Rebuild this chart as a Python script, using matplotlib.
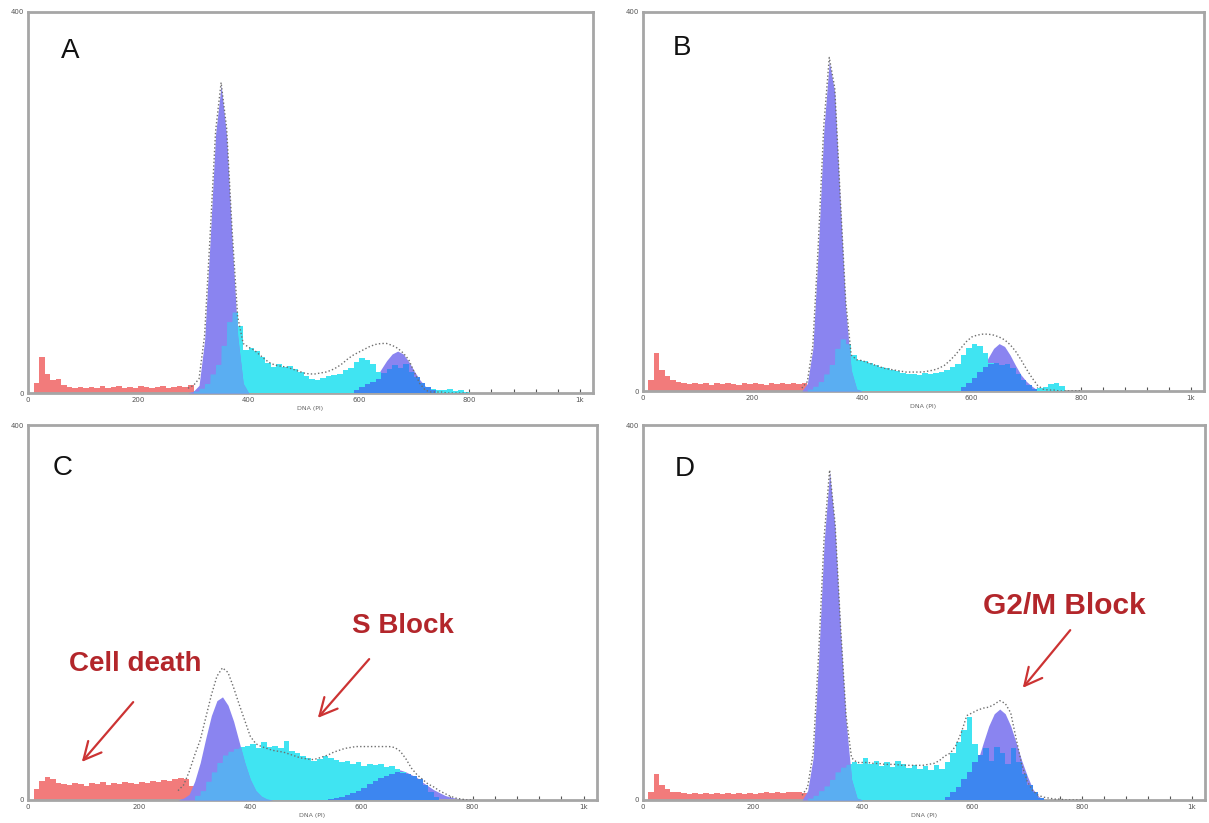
import numpy as np
import matplotlib
matplotlib.use("Agg")
import matplotlib.pyplot as plt
from matplotlib.patches import FancyArrowPatch
from matplotlib.ticker import FixedLocator, MultipleLocator

BIN = 10  # channel width of every listed value

# ---------------- Panel A ----------------
debris_A_start = 0
debris_A = [0, 10, 38, 20, 14, 15, 8, 6, 5, 6, 5, 6, 5, 7, 5, 6, 7, 5, 6, 5,
            7, 6, 5, 6, 7, 5, 6, 7, 6, 8]
sphase_A_start = 300
sphase_A = [2, 5, 10, 20, 30, 50, 75, 85, 70, 45,
            47, 44, 38, 32, 27, 30, 27, 28, 25, 22,
            18, 15, 14, 16, 18, 19, 20, 24, 26, 33,
            37, 35, 30, 22, 14, 8, 4, 2, 2, 3,
            3, 4, 3, 4, 3, 3, 4, 2, 3, 1]
g1_A_start = 290
g1_A = [0, 2, 8, 55, 160, 272, 323, 270, 160, 60, 10, 0]
g2_A_start = 560
g2_A = [0, 0, 0, 1, 2, 4, 8, 15, 25, 34, 41, 44, 41, 33, 23, 14, 7, 3, 1, 0, 0]
g2data_A_start = 590
g2data_A = [3, 6, 9, 12, 15, 21, 25, 29, 26, 30, 22, 17, 10, 6, 3]
total_A_start = 290
total_A = [5, 8, 15, 60, 165, 275, 326, 278, 170, 80,
           52, 48, 45, 40, 35, 31, 29, 28, 27, 25,
           23, 21, 20, 20, 21, 22, 24, 27, 31, 36,
           40, 43, 46, 49, 51, 52, 52, 50, 47, 42,
           35, 22, 10, 3, 1, 1, 1, 0, 0, 0, 0, 0]

# ---------------- Panel B ----------------
debris_B_start = 0
debris_B = [0, 12, 40, 22, 16, 12, 10, 8, 7, 8, 7, 8, 6, 8, 7, 8, 7, 6, 8, 7,
            8, 7, 6, 8, 7, 8, 7, 8, 7, 8]
sphase_B_start = 300
sphase_B = [2, 5, 10, 18, 28, 45, 55, 50, 38, 33,
            32, 30, 27, 25, 24, 22, 21, 19, 18, 18,
            17, 19, 18, 19, 20, 22, 25, 29, 38, 45,
            50, 48, 40, 30, 20, 12, 6, 3, 2, 2,
            2, 2, 3, 4, 7, 8, 5, 0, 0, 0]
g1_B_start = 290
g1_B = [0, 8, 45, 150, 275, 348, 315, 200, 88, 22, 2, 0]
g2_B_start = 560
g2_B = [0, 0, 1, 2, 6, 13, 23, 35, 45, 50, 47, 38, 27, 17, 10, 5, 1, 0, 0, 0, 0]
g2data_B_start = 580
g2data_B = [4, 8, 14, 20, 25, 28, 30, 27, 29, 24, 18, 12, 6, 2]
total_B_start = 290
total_B = [3, 10, 48, 155, 280, 352, 320, 205, 95, 38,
           33, 32, 30, 28, 26, 24, 23, 22, 21, 20,
           20, 20, 20, 21, 22, 24, 27, 32, 38, 45,
           52, 57, 59, 60, 60, 59, 57, 54, 49, 42,
           33, 23, 14, 6, 2, 1, 1, 0, 0, 0, 0, 0]

# ---------------- Panel C ----------------
debris_C_start = 0
debris_C = [0, 12, 20, 25, 22, 18, 17, 16, 18, 17, 15, 18, 17, 19, 16, 18, 17, 19, 18, 17,
            19, 18, 20, 19, 21, 20, 22, 23, 22, 15]
sphase_C_start = 300
sphase_C = [5, 10, 20, 30, 40, 48, 52, 55, 57, 58,
            60, 55, 62, 56, 58, 55, 63, 52, 50, 47,
            45, 42, 44, 47, 45, 43, 40, 42, 38, 40,
            36, 38, 37, 38, 35, 36, 33, 30, 27, 20,
            12, 6, 3, 1, 0, 0, 0, 0, 0, 0]
g1_C_start = 270
g1_C = [0, 2, 6, 20, 40, 66, 90, 106, 110, 101, 84, 62, 40, 22, 10, 4, 1, 0]
g2_C_start = 520
g2_C = [0, 0, 1, 1, 2, 3, 5, 8, 11, 15, 19, 24, 27, 30, 32, 32, 30, 27, 24, 19,
        15, 11, 8, 5, 3, 2, 1, 1, 0]
g2data_C_start = 540
g2data_C = [1, 2, 3, 5, 7, 10, 13, 17, 20, 23, 26, 28, 30, 29, 28, 26, 22, 16, 8, 3]
total_C_start = 270
total_C = [10, 16, 30, 48, 64, 88, 112, 132, 141, 136,
           120, 102, 85, 68, 60, 57, 55, 53, 52, 51,
           49, 47, 45, 44, 43, 44, 46, 48, 51, 53,
           55, 56, 57, 57, 57, 57, 57, 57, 57, 56,
           52, 44, 34, 27, 22, 17, 14, 10, 7, 4,
           2, 1, 0, 0]

# ---------------- Panel D ----------------
debris_D_start = 0
debris_D = [0, 8, 28, 16, 12, 9, 8, 7, 6, 7, 6, 7, 6, 7, 6, 7, 6, 7, 6, 7,
            6, 7, 8, 7, 8, 7, 8, 9, 8, 7]
sphase_D_start = 300
sphase_D = [2, 5, 10, 15, 22, 30, 35, 38, 40, 38,
            45, 38, 42, 36, 40, 35, 42, 38, 34, 37,
            33, 36, 32, 37, 33, 40, 50, 62, 75, 88,
            60, 30, 14, 6, 3, 2, 1, 0, 0, 0,
            0, 0, 0, 0, 0, 0, 0, 0, 0, 0]
g1_D_start = 290
g1_D = [0, 10, 45, 150, 275, 350, 290, 180, 85, 22, 2, 0]
g2_D_start = 540
g2_D = [0, 0, 1, 3, 8, 15, 26, 42, 61, 79, 92, 97, 92, 79, 61, 42, 26, 12, 4, 1, 0]
g2data_D_start = 550
g2data_D = [3, 8, 14, 22, 30, 40, 48, 55, 42, 57, 50, 38, 55, 40, 28, 16, 8, 2]
total_D_start = 290
total_D = [5, 14, 50, 155, 280, 352, 295, 185, 90, 45,
           40, 40, 40, 39, 39, 38, 38, 38, 37, 37,
           37, 37, 37, 38, 39, 42, 47, 50, 58, 72,
           90, 93, 96, 98, 99, 102, 106, 103, 93, 65,
           38, 20, 10, 5, 3, 2, 1, 1, 0, 0, 0, 0]

panel_labels = ["A", "B", "C", "D"]
x_ticks = [0, 200, 400, 600, 800, 1000]
x_tick_labels = ["0", "200", "400", "600", "800", "1k"]
y_ticks = [0, 400]
y_tick_labels = ["0", "400"]
x_label = "DNA (PI)"

# ---------------- styling ----------------
C_DEBRIS = "#f27b7b"
C_PURPLE = "#8a84f0"
C_CYAN = "#40e4f2"
C_OVERLAP = "#5aaef2"
C_BLUE = "#3d86f0"
C_DOT = "#6e6e6e"
C_SPINE = "#a6a6a6"
C_RED_TXT = "#b3262b"
C_ARROW = "#cc3333"

W, H = 1209, 823
fig = plt.figure(figsize=(W / 100, H / 100), dpi=100)
fig.patch.set_facecolor("white")


def px_rect(l, t, r, b):
    return [l / W, 1 - b / H, (r - l) / W, (b - t) / H]


rects = [px_rect(28, 12, 593, 393), px_rect(643, 12, 1204, 391),
         px_rect(28, 425, 597, 800), px_rect(643, 425, 1205, 800)]
label_pos = [(0.074, 0.898), (0.07, 0.904), (0.06, 0.885), (0.075, 0.883)]

panels = [
    (debris_A_start, debris_A, sphase_A_start, sphase_A, g1_A_start, g1_A,
     g2_A_start, g2_A, g2data_A_start, g2data_A, total_A_start, total_A),
    (debris_B_start, debris_B, sphase_B_start, sphase_B, g1_B_start, g1_B,
     g2_B_start, g2_B, g2data_B_start, g2data_B, total_B_start, total_B),
    (debris_C_start, debris_C, sphase_C_start, sphase_C, g1_C_start, g1_C,
     g2_C_start, g2_C, g2data_C_start, g2data_C, total_C_start, total_C),
    (debris_D_start, debris_D, sphase_D_start, sphase_D, g1_D_start, g1_D,
     g2_D_start, g2_D, g2data_D_start, g2data_D, total_D_start, total_D),
]


def step_fill(ax, start, vals, color, z):
    v = np.asarray(vals, dtype=float)
    x = start + BIN * np.arange(len(v) + 1)
    y = np.append(v, v[-1])
    ax.fill_between(x, y, step="post", color=color, lw=0, zorder=z)


def line_fill(ax, start, vals, color, z):
    v = np.asarray(vals, dtype=float)
    x = start + BIN * np.arange(len(v))
    ax.fill_between(x, v, color=color, lw=0, zorder=z)


def overlap_fill(ax, s_start, s_vals, g_start, g_vals, color, z):
    # part of the S-phase histogram lying inside the G1 peak
    g = np.asarray(g_vals, dtype=float)
    gx = g_start + BIN * np.arange(len(g))
    xs = np.arange(gx[0], gx[-1] + 0.5, 0.5)
    s = np.asarray(s_vals, dtype=float)
    idx = np.floor((xs - s_start) / BIN).astype(int)
    inside = (idx >= 0) & (idx < len(s))
    s_on = np.where(inside, s[np.clip(idx, 0, len(s) - 1)], 0.0)
    g_on = np.interp(xs, gx, g)
    ax.fill_between(xs, np.minimum(s_on, g_on), color=color, lw=0, zorder=z)


for rect, data, lab, lp in zip(rects, panels, panel_labels, label_pos):
    (d0, deb, s0, sp, g10, g1, g20, g2, b0, bl, t0, tot) = data
    ax = fig.add_axes(rect)
    step_fill(ax, d0, deb, C_DEBRIS, 2)
    line_fill(ax, g20, g2, C_PURPLE, 2.5)
    step_fill(ax, s0, sp, C_CYAN, 3)
    step_fill(ax, b0, bl, C_BLUE, 3.5)
    line_fill(ax, g10, g1, C_PURPLE, 4)
    overlap_fill(ax, s0, sp, g10, g1, C_OVERLAP, 4.5)
    tx = t0 + BIN * np.arange(len(tot))
    ax.plot(tx, tot, ls=(0, (1, 1.6)), color=C_DOT, lw=1.0, zorder=5)

    ax.set_xlim(0, 1024)
    ax.set_ylim(0, 400)
    for s in ax.spines.values():
        s.set_color(C_SPINE)
        s.set_linewidth(2.0)
    ax.xaxis.set_major_locator(FixedLocator(x_ticks))
    ax.set_xticklabels(x_tick_labels)
    ax.xaxis.set_minor_locator(MultipleLocator(40))
    ax.yaxis.set_major_locator(FixedLocator(y_ticks))
    ax.set_yticklabels(y_tick_labels)
    ax.tick_params(axis="both", which="both", direction="in", labelsize=5,
                   colors="#555555", length=3, width=0.8, pad=3)
    ax.tick_params(axis="y", length=0, pad=3)
    ax.set_xlabel(x_label, fontsize=4.5, color="#666666", labelpad=2)
    ax.text(lp[0], lp[1], lab, transform=ax.transAxes, fontsize=20,
            family="Liberation Sans", ha="center", va="center", color="#111111")


def fp(x, y):
    return (x / W, 1 - y / H)


txt_kw = dict(fontweight="bold", family="Liberation Sans",
              color=C_RED_TXT, ha="center", va="center")
fig.text(*fp(135, 664), "Cell death", fontsize=20, **txt_kw)
fig.text(*fp(403, 626), "S Block", fontsize=20, **txt_kw)
fig.text(*fp(1064, 606), "G2/M Block", fontsize=21.5, **txt_kw)

for tail, head in [((135, 700), (80, 764)), ((371, 657), (316, 720)),
                   ((1072, 628), (1021, 690))]:
    fig.add_artist(FancyArrowPatch(
        fp(*tail), fp(*head), transform=fig.transFigure,
        arrowstyle="->,head_length=0.9,head_width=0.45", color=C_ARROW, lw=1.6,
        mutation_scale=14))

fig.savefig("out.png", dpi=100, facecolor="white")
